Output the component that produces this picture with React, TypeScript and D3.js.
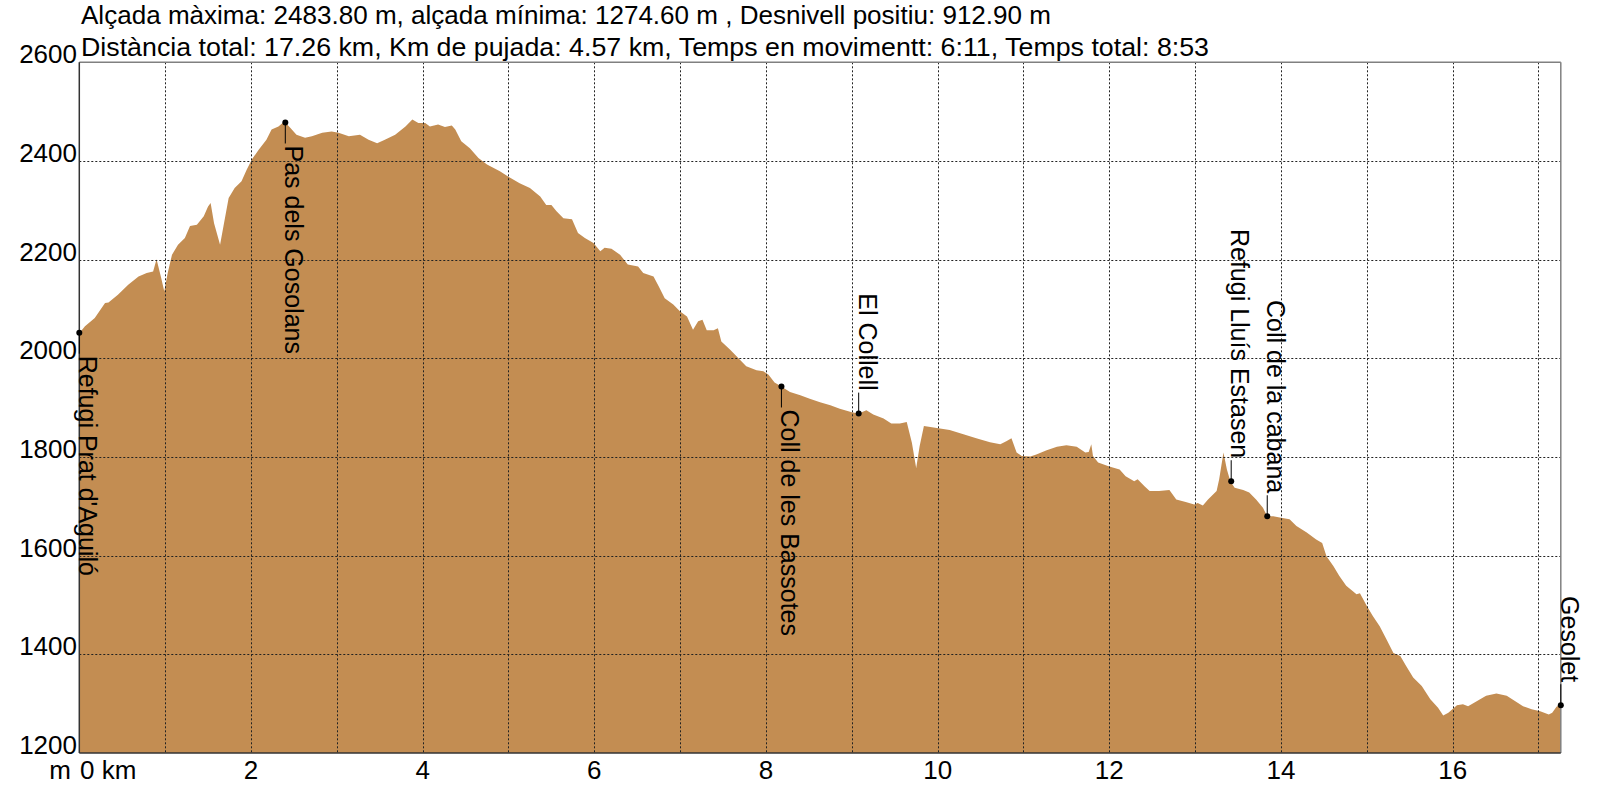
import React from "react";
import * as d3 from "d3";

const distKm = [
  0, 0.066, 0.18, 0.3, 0.34, 0.45, 0.57, 0.69, 0.785, 0.86, 0.9, 0.95, 0.99, 1.03, 1.08, 1.15, 1.23, 1.29, 1.37, 1.45,
  1.5, 1.53, 1.57, 1.64, 1.68, 1.74, 1.81, 1.89, 1.95, 2.01, 2.09, 2.18, 2.24, 2.32, 2.39, 2.46, 2.53, 2.63, 2.71, 2.83,
  2.94, 3.02, 3.14, 3.27, 3.37, 3.47, 3.56, 3.68, 3.8, 3.88, 3.95, 4.03, 4.085, 4.18, 4.26, 4.34, 4.38, 4.45, 4.55, 4.65,
  4.75, 4.9, 5.0, 5.13, 5.25, 5.37, 5.44, 5.5, 5.56, 5.64, 5.74, 5.81, 5.89, 5.99, 6.07, 6.12, 6.2, 6.3, 6.39, 6.51,
  6.57, 6.69, 6.75, 6.82, 6.92, 7.0, 7.08, 7.15, 7.21, 7.26, 7.31, 7.39, 7.44, 7.48, 7.58, 7.66, 7.77, 7.89, 7.97, 8.03,
  8.1, 8.17, 8.28, 8.4, 8.51, 8.63, 8.75, 8.86, 9.0, 9.08, 9.17, 9.25, 9.37, 9.46, 9.56, 9.64, 9.7, 9.75, 9.79, 9.84,
  9.99, 10.14, 10.3, 10.45, 10.61, 10.73, 10.8, 10.86, 10.92, 10.98, 11.08, 11.15, 11.27, 11.39, 11.5, 11.62, 11.72, 11.76, 11.79, 11.81,
  11.87, 12.0, 12.12, 12.19, 12.29, 12.33, 12.41, 12.47, 12.58, 12.7, 12.78, 12.89, 12.99, 13.03, 13.09, 13.15, 13.25, 13.28, 13.33, 13.37,
  13.41, 13.46, 13.56, 13.63, 13.71, 13.79, 13.84, 13.91, 14.0, 14.1, 14.18, 14.3, 14.41, 14.48, 14.53, 14.61, 14.68, 14.76, 14.88, 14.92,
  15.0, 15.07, 15.15, 15.23, 15.31, 15.39, 15.46, 15.54, 15.64, 15.74, 15.83, 15.89, 15.95, 16.05, 16.12, 16.18, 16.28, 16.39, 16.51, 16.63,
  16.73, 16.82, 16.92, 17.02, 17.12, 17.16, 17.21, 17.26,
];

const elevM = [
  2051, 2065, 2082, 2112, 2113, 2129, 2149, 2166, 2173, 2176, 2201, 2166, 2136, 2173, 2210, 2230, 2244, 2268, 2271, 2288,
  2308, 2315, 2274, 2230, 2268, 2325, 2345, 2359, 2382, 2403, 2423, 2443, 2464, 2470, 2480, 2467, 2453, 2447, 2450, 2457,
  2460, 2457, 2450, 2453, 2443, 2436, 2443, 2453, 2470, 2484, 2477, 2477, 2470, 2474, 2469, 2472, 2464, 2440, 2426, 2406,
  2393, 2379, 2368, 2355, 2345, 2328, 2311, 2311, 2298, 2284, 2282, 2254, 2244, 2234, 2217, 2224, 2222, 2210, 2190, 2186,
  2173, 2166, 2146, 2122, 2109, 2095, 2085, 2058, 2075, 2078, 2057, 2057, 2061, 2034, 2018, 2004, 1984, 1976, 1974, 1967,
  1951, 1944, 1932, 1925, 1918, 1911, 1905, 1898, 1891, 1888, 1895, 1886, 1878, 1868, 1868, 1871, 1829, 1778, 1822, 1863,
  1859, 1855, 1846, 1838, 1830, 1826, 1832, 1838, 1809, 1802, 1801, 1805, 1814, 1821, 1824, 1821, 1809, 1810, 1826, 1802,
  1789, 1781, 1775, 1761, 1751, 1755, 1741, 1731, 1731, 1733, 1714, 1709, 1704, 1707, 1702, 1714, 1731, 1755, 1809, 1775,
  1751, 1738, 1733, 1728, 1714, 1697, 1680, 1680, 1677, 1674, 1660, 1647, 1633, 1626, 1599, 1579, 1559, 1539, 1522, 1524,
  1498, 1478, 1457, 1430, 1403, 1397, 1376, 1353, 1336, 1309, 1292, 1276, 1282, 1297, 1299, 1295, 1305, 1316, 1321, 1316,
  1305, 1295, 1289, 1285, 1278, 1282, 1294, 1299,
];

const markerNames = [
  "Refugi Prat d'Aguiló",
  "Pas dels Gosolans",
  "Coll de les Bassotes",
  "El Collell",
  "Refugi Lluís Estasen",
  "Coll de la cabana",
  "Gesolet",
];
const markerKm = [0, 2.4, 8.18, 9.08, 13.42, 13.84, 17.26];
const markerElev = [2052, 2478, 1943, 1888, 1751, 1680, 1297];
const markerSide = ["below", "below", "below", "above", "above", "above", "above"];

const yTicks = [1200, 1400, 1600, 1800, 2000, 2200, 2400, 2600];
const xGridKm = [1, 2, 3, 4, 5, 6, 7, 8, 9, 10, 11, 12, 13, 14, 15, 16, 17];
const xLabelKm = [2, 4, 6, 8, 10, 12, 14, 16];

const titleLine1 = "Alçada màxima: 2483.80 m, alçada mínima: 1274.60 m , Desnivell positiu: 912.90 m";
const titleLine2 = "Distància total: 17.26 km, Km de pujada: 4.57 km, Temps en movimentt: 6:11, Temps total: 8:53";

const FONT = "'Liberation Sans', Arial, Helvetica, sans-serif";

export default function App() {
  const x = d3.scaleLinear().domain([0, 17.26]).range([79.3, 1560.8]);
  const y = d3.scaleLinear().domain([1200, 2600]).range([753.1, 62.3]);

  const pts = distKm.map((d, i) => [d, elevM[i]] as [number, number]);
  const area = d3
    .area<[number, number]>()
    .x((d) => x(d[0]))
    .y0(y(1200))
    .y1((d) => y(d[1]))(pts) as string;

  const x0 = x(0);
  const x1 = x(17.26);
  const yTop = y(2600);
  const yBot = y(1200);

  return (
    <svg
      width={1600}
      height={793}
      style={{ position: "fixed", left: 0, top: 0, display: "block", background: "#fff" }}
      fontFamily={FONT}
    >
      <rect x={0} y={0} width={1600} height={793} fill="#fff" />
      <path d={area} fill="#C38D52" />
      {/* grid */}
      {xGridKm.map((k) => (
        <line
          key={"gx" + k}
          x1={Math.round(x(k)) + 0.5}
          x2={Math.round(x(k)) + 0.5}
          y1={yTop}
          y2={yBot}
          stroke="#222"
          strokeWidth={1}
          strokeDasharray="2,2"
        />
      ))}
      {yTicks
        .filter((t) => t > 1200 && t < 2600)
        .map((t) => (
          <line
            key={"gy" + t}
            x1={x0}
            x2={x1}
            y1={Math.round(y(t)) + 0.5}
            y2={Math.round(y(t)) + 0.5}
            stroke="#222"
            strokeWidth={1}
            strokeDasharray="2,2"
          />
        ))}
      {/* frame */}
      <line x1={x0} x2={x1} y1={yTop} y2={yTop} stroke="#808080" strokeWidth={1.5} />
      <line x1={x1} x2={x1} y1={yTop} y2={yBot} stroke="#808080" strokeWidth={1.5} />
      <line x1={x0} x2={x0} y1={yTop} y2={yBot} stroke="#333" strokeWidth={1.5} />
      <line x1={x0} x2={x1} y1={yBot} y2={yBot} stroke="#333" strokeWidth={1.5} />

      {/* y labels */}
      {yTicks.map((t) => (
        <text key={"yl" + t} x={77} y={y(t) + 1} fontSize={26} textAnchor="end" fill="#000">
          {t}
        </text>
      ))}
      {/* x labels */}
      <text x={71} y={779} fontSize={26} textAnchor="end" fill="#000">
        m
      </text>
      <text x={80} y={779} fontSize={26} textAnchor="start" fill="#000">
        0 km
      </text>
      {xLabelKm.map((k) => (
        <text key={"xl" + k} x={x(k)} y={779} fontSize={26} textAnchor="middle" fill="#000">
          {k}
        </text>
      ))}

      {/* titles */}
      <text x={81} y={24} fontSize={26} textLength={970} lengthAdjust="spacingAndGlyphs" fill="#000">
        {titleLine1}
      </text>
      <text x={81} y={56} fontSize={26} textLength={1128} lengthAdjust="spacingAndGlyphs" fill="#000">
        {titleLine2}
      </text>

      {/* markers */}
      {markerNames.map((name, i) => {
        const mx = x(markerKm[i]);
        const my = y(markerElev[i]);
        const below = markerSide[i] === "below";
        const lineEnd = below ? my + 21 : my - 21;
        const textPos = below ? my + 23 : my - 23;
        return (
          <g key={"m" + i}>
            <line x1={mx} x2={mx} y1={my} y2={lineEnd} stroke="#000" strokeWidth={1} />
            <circle cx={mx} cy={my} r={3} fill="#000" />
            <text
              transform={`translate(${mx},${textPos}) rotate(90)`}
              fontSize={25}
              textAnchor={below ? "start" : "end"}
              fill="#000"
            >
              {name}
            </text>
          </g>
        );
      })}
    </svg>
  );
}
